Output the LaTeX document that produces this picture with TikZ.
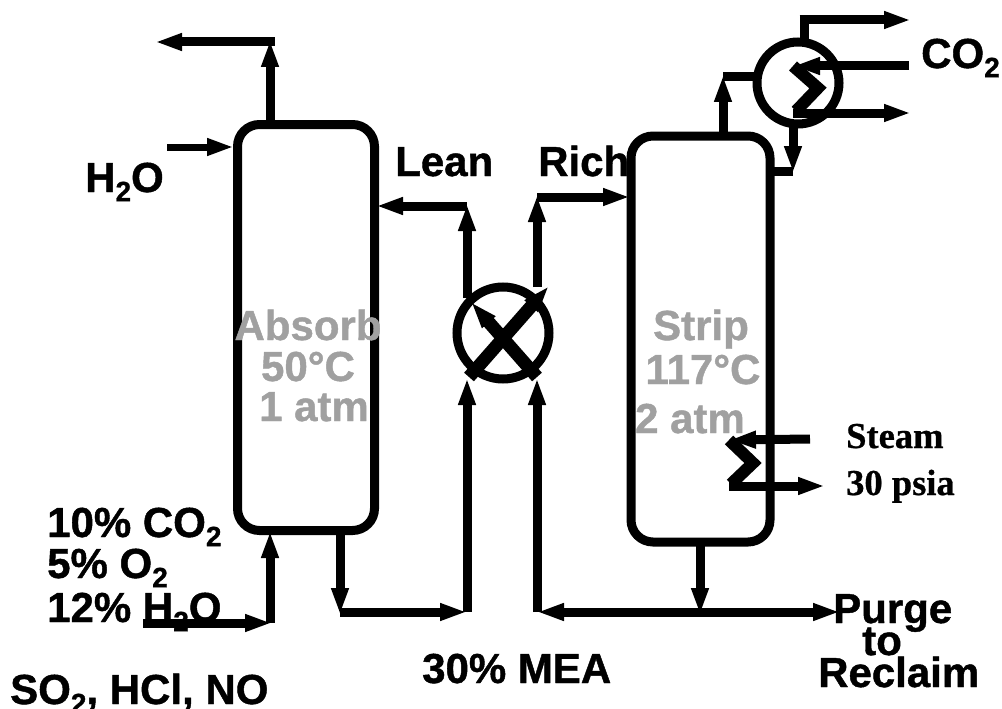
\documentclass[tikz,border=0pt]{standalone}
\usepackage{fontspec}
\setmainfont[BoldFeatures={FakeBold=1.0}]{Liberation Sans}
\newfontfamily\serifbold[BoldFeatures={FakeBold=0.7}]{Liberation Serif}
\usetikzlibrary{arrows.meta}
\newcommand{\lowidx}[1]{\raisebox{-0.22em}{\fontsize{28}{28}\selectfont #1}}
\tikzset{
  x=1pt,y=-1pt,
  pipe/.style={line width=9pt,line cap=butt,line join=miter},
  flow/.style={pipe,-{Triangle[length=27pt,width=16pt]}},
  coil/.style={line width=12pt,line join=miter,line cap=butt},
  vessel/.style={draw,line width=9pt,rounded corners=22pt,inner sep=0pt},
  exch/.style={draw,circle,inner sep=0pt,line width=9pt},
  lbl/.style={anchor=base west,inner sep=0pt,font=\bfseries\fontsize{42}{42}\selectfont},
  grey/.style={lbl,text=textgrey,anchor=base},
  slbl/.style={anchor=base west,inner sep=0pt,font=\serifbold\bfseries\fontsize{36.5}{36.5}\selectfont},
}
\definecolor{textgrey}{HTML}{A0A0A0}
\begin{document}
\begin{tikzpicture}
\useasboundingbox (0,0) rectangle (1002,709);
% vessels
\node[vessel,minimum width=137pt,minimum height=406pt] (absorber) at (306,327.5) {};
\node[vessel,minimum width=139pt,minimum height=406pt] (stripper) at (700.5,339) {};
\node[exch,minimum size=92pt] (hx) at (503,333) {};
\node[exch,minimum size=82pt] (cond) at (798,83) {};
% labels
\node[lbl] (t1) at (47,537) {10\% CO\lowidx{2}};
\node[lbl] (t2) at (47,578) {5\% O\lowidx{2}};
\node[lbl] (t3) at (47,622) {12\% H\lowidx{2}O};
\node[lbl] (t4) at (10,704) {SO\lowidx{2}, HCl, NO};
\node[lbl] (t5) at (85,192) {H\lowidx{2}O};
\node[lbl] (t6) at (395,176) {Lean};
\node[lbl] (t7) at (538,176) {Rich};
\node[lbl] (t8) at (921,68) {CO\lowidx{2}};
\node[lbl] (t9) at (422,683) {30\% MEA};
\node[lbl] (t10) at (833,623) {Purge};
\node[lbl] (t11) at (862,655) {to};
\node[lbl] (t12) at (818,687) {Reclaim};
\node[slbl] (s1) at (846,448) {Steam};
\node[slbl] (s2) at (846,495) {30 psia};
% junctions
\coordinate (aTop) at (270,122);
\coordinate (aTopK) at (270,40);
\coordinate (aOut) at (155,42);
\coordinate (wIn) at (167,147);
\coordinate (wEnd) at (234,147);
\coordinate (gIn) at (143,623);
\coordinate (gK) at (272,623);
\coordinate (gEnd) at (270,531);
\coordinate (aBot) at (340,532);
\coordinate (aBotK) at (340,615);
\coordinate (leanB) at (467,612);
\coordinate (leanX) at (467,378);
\coordinate (leanT0) at (467,298);
\coordinate (leanT) at (467,204);
\coordinate (leanE) at (376,206);
\coordinate (richB) at (537,612);
\coordinate (richX) at (537,378);
\coordinate (richT0) at (537,287);
\coordinate (richT) at (537,195);
\coordinate (richE) at (630,197);
\coordinate (sBot) at (700,542);
\coordinate (sBotK) at (700,615);
\coordinate (purge) at (840,612);
\coordinate (sTop) at (723,136);
\coordinate (sTopK) at (723,75);
\coordinate (condIn) at (757,77);
\coordinate (condT) at (804,42);
\coordinate (condTK) at (804,20);
\coordinate (condOut) at (911,20);
\coordinate (condB) at (793,125);
\coordinate (condBK) at (793,173);
\coordinate (sRet) at (770,171);
\coordinate (cwIn) at (909,66);
\coordinate (cw1) at (793,66);
\coordinate (cw2) at (818,88);
\coordinate (cw3) at (796,111);
\coordinate (cw4) at (793,113);
\coordinate (cwOut) at (911,113);
\coordinate (stIn) at (810,439);
\coordinate (st1) at (729,440);
\coordinate (st2) at (753,463);
\coordinate (st3) at (731,484);
\coordinate (st4) at (729,486);
\coordinate (stOut) at (825,486);
% absorber streams
\draw[flow] (aTop) -- (aTopK);
\draw[flow] ([xshift=4.5pt]aTopK |- aOut) -- (aOut);
\draw[flow,line width=7pt] (wIn) -- (wEnd);
\draw[flow] (gIn) -- (gK);
\draw[flow] (gK -| gEnd) -- (gEnd);
\draw[flow] (aBot) -- (aBotK);
\draw[flow] (aBot |- leanB) -- (leanB);
% lean and rich lines
\draw[flow] (leanB) -- (leanX);
\draw[flow] (leanT0) -- (leanT);
\draw[flow] (leanT |- leanE) -- (leanE);
\draw[flow] (richB) -- (richX);
\draw[flow] (richT0) -- (richT);
\draw[flow] (richT |- richE) -- (richE);
% exchanger cross
\coordinate (xa) at (469,377);
\coordinate (xb) at (549,286);
\coordinate (xc) at (537,377);
\coordinate (xd) at (471,302);
\draw[flow,line width=13pt] (xa) -- (xb);
\draw[flow,line width=13pt] (xc) -- (xd);
% stripper streams
\draw[flow] (sBot) -- (sBotK);
\draw[flow] (sBotK |- purge) -- (purge);
\draw[flow] (sBotK |- purge) -- (richB);
\draw[flow] (sTop) -- (sTopK);
\draw[pipe] (sTopK |- condIn) -- (condIn);
\draw[pipe] (condT) -- (condTK);
\draw[flow] ([xshift=-4.5pt]condTK) -- (condOut);
\draw[flow] (condB) -- (condBK);
\draw[pipe] (condBK |- sRet) -- (sRet);
% condenser coil
\draw[flow] (cwIn) -- (cw1);
\draw[coil] (cw1) -- (cw2) -- (cw3);
\draw[flow] (cw4) -- (cwOut);
% reboiler coil
\draw[flow] (stIn) -- (st1);
\draw[coil] (st1) -- (st2) -- (st3);
\draw[flow] (st4) -- (stOut);
% grey text
\node[grey] (g1) at (308,340) {Absorb};
\node[grey] (g2) at (308,381) {50°C};
\node[grey] (g3) at (314,421) {1 atm};
\node[grey] (g4) at (701,340) {Strip};
\node[grey] (g5) at (703,384) {117°C};
\node[grey] (g6) at (690,433) {2 atm};
\end{tikzpicture}
\end{document}
